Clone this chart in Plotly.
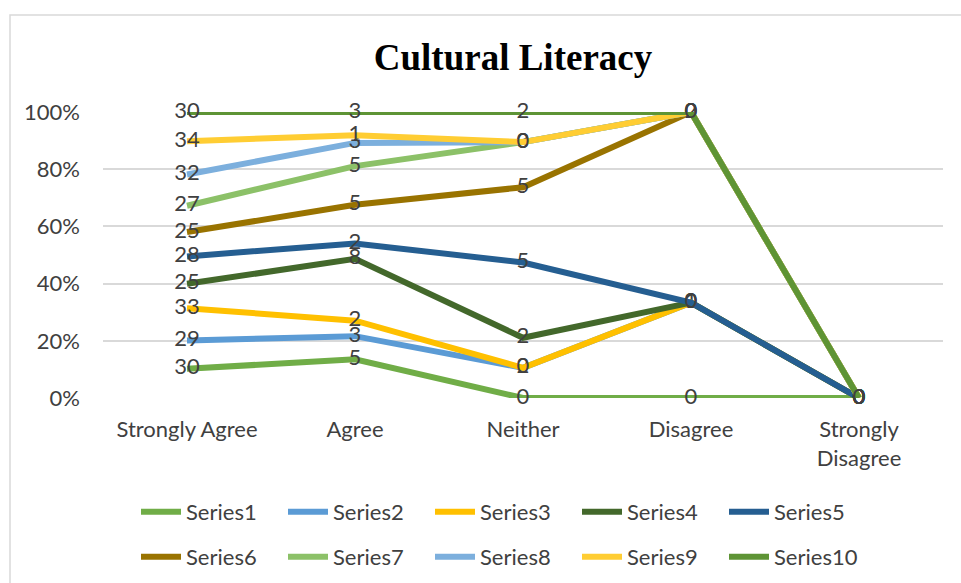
import numpy as np
import plotly.graph_objects as go

categories = ["Strongly Agree", "Agree", "Neither", "Disagree", "Strongly<br>Disagree"]
series_names = [f"Series{i}" for i in range(1, 11)]

# raw counts per series (rows) for each category (columns)
s1 = [30, 5, 0, 0, 0]
s2 = [29, 3, 2, 1, 0]
s3 = [33, 2, 0, 0, 0]
s4 = [25, 8, 2, 0, 0]
s5 = [28, 2, 5, 0, 0]
s6 = [25, 5, 5, 2, 0]
s7 = [27, 5, 3, 0, 0]
s8 = [32, 3, 0, 0, 0]
s9 = [34, 1, 0, 0, 0]
s10 = [30, 3, 2, 0, 0]

colors = ["#70AD47", "#5B9BD5", "#FFC000", "#43682B", "#255E91",
          "#997300", "#8CC168", "#7CAFDD", "#FFCD33", "#5E9435"]

counts = np.array([s1, s2, s3, s4, s5, s6, s7, s8, s9, s10], dtype=float)
totals = counts.sum(axis=0)
cum = np.cumsum(counts, axis=0)
pct = np.divide(cum, totals, out=np.zeros_like(cum), where=totals > 0)

FONT = "Lato"
FS = 22
fig = go.Figure()
x_idx = list(range(len(categories)))
for i, name in enumerate(series_names):
    fig.add_trace(go.Scatter(
        x=x_idx, y=pct[i], name=name, mode="lines+text",
        line=dict(color=colors[i], width=6),
        text=[str(int(v)) for v in counts[i]],
        textposition="middle center",
        textfont=dict(family=FONT, size=FS, color="#404040"),
        cliponaxis=False,
        legend="legend" if i < 5 else "legend2",
        hoverinfo="skip",
    ))

plot_l, plot_r, plot_t, plot_b = 103, 943, 112, 398
W, H = 961, 583
pw, ph = plot_r - plot_l, plot_b - plot_t

def px_to_paper_x(px):
    return (px - plot_l) / pw

def px_to_paper_y(py):
    return (plot_b - py) / ph

legend_common = dict(orientation="h", xanchor="left", yanchor="middle",
                     entrywidth=92, entrywidthmode="pixels",
                     font=dict(family=FONT, size=FS, color="#404040"),
                     bgcolor="rgba(0,0,0,0)", itemwidth=40,
                     traceorder="normal")

fig.update_layout(
    width=W, height=H,
    margin=dict(l=plot_l, r=W - plot_r, t=plot_t, b=H - plot_b, autoexpand=False),
    paper_bgcolor="white", plot_bgcolor="white",
    title=dict(text="<b>Cultural Literacy</b>", x=513 / W, xanchor="center",
               y=1 - 57 / H, yanchor="middle",
               font=dict(family="Liberation Serif", size=37, color="black")),
    showlegend=True,
    legend=dict(x=px_to_paper_x(136), y=px_to_paper_y(512), **legend_common),
    legend2=dict(x=px_to_paper_x(136), y=px_to_paper_y(557), **legend_common),
    xaxis=dict(range=[-0.5, 4.5], tickmode="array", tickvals=x_idx,
               ticktext=categories, showgrid=False, zeroline=False,
               showline=False, ticks="",
               tickfont=dict(family=FONT, size=FS, color="#404040"),
               ticklabelstandoff=16),
    yaxis=dict(range=[0, 1], tickvals=[0, 0.2, 0.4, 0.6, 0.8, 1.0],
               tickformat=".0%", showgrid=True, gridcolor="#D9D9D9",
               gridwidth=1.5, zeroline=False, showline=False, ticks="",
               tickfont=dict(family=FONT, size=FS, color="#404040"),
               ticklabelstandoff=22),
    shapes=[dict(type="rect", xref="paper", yref="paper",
                 x0=px_to_paper_x(10), x1=px_to_paper_x(970),
                 y0=px_to_paper_y(600), y1=px_to_paper_y(15),
                 line=dict(color="#D9D9D9", width=1.5),
                 fillcolor="rgba(0,0,0,0)", layer="below")],
)

fig.write_html("out.html", config={"displayModeBar": False},
               post_script="document.body.style.margin='0';document.body.style.overflow='hidden';")
